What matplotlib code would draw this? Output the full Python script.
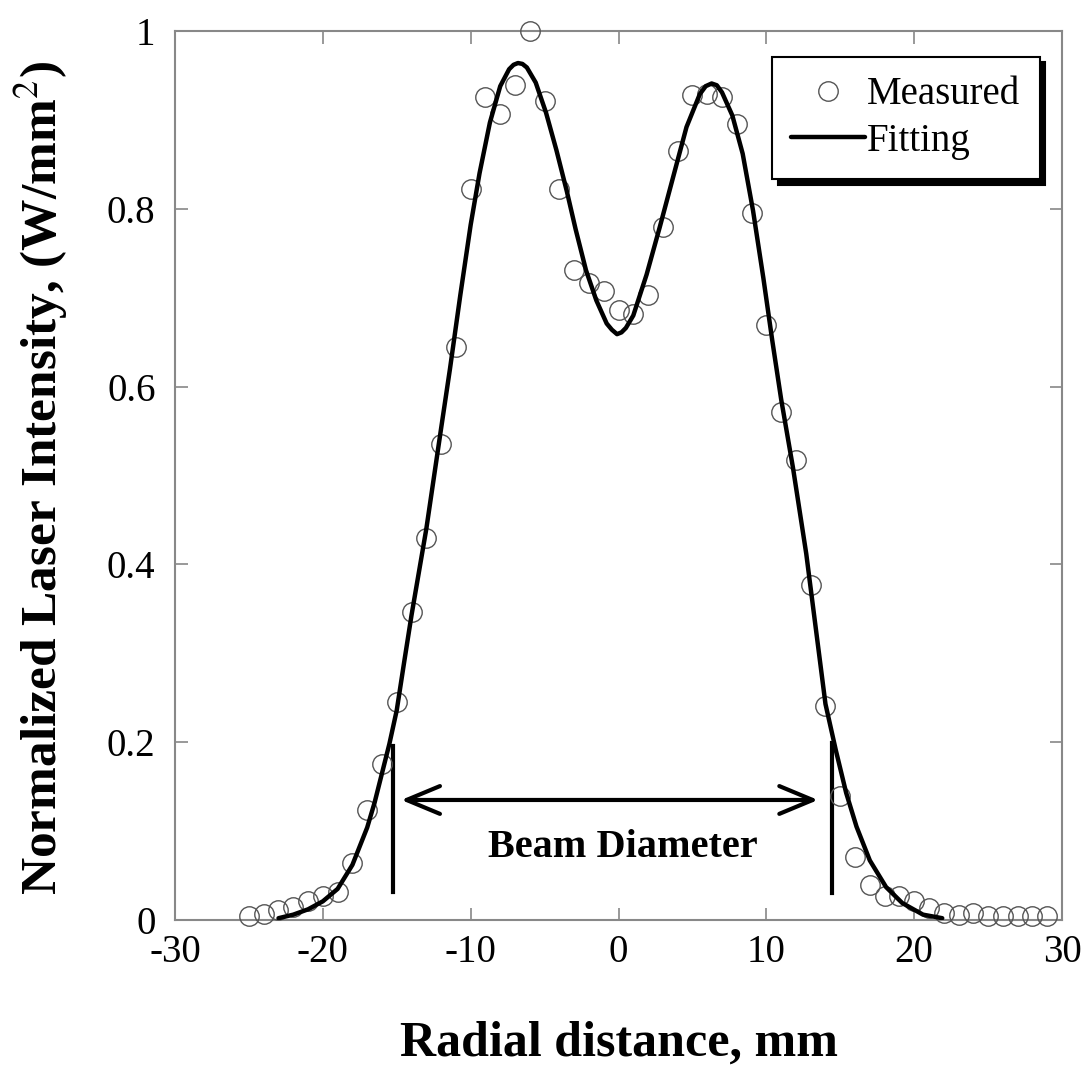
import matplotlib.pyplot as plt
import numpy as np

# measured points (1 mm steps)
radial = list(range(-25, 30))
measured = [0.005, 0.007, 0.011, 0.015, 0.021, 0.027, 0.031, 0.064, 0.124, 0.175,
            0.245, 0.346, 0.430, 0.536, 0.645, 0.822, 0.926, 0.907, 0.939, 1.000,
            0.921, 0.822, 0.731, 0.716, 0.708, 0.686, 0.682, 0.703, 0.780, 0.865,
            0.928, 0.929, 0.926, 0.895, 0.795, 0.669, 0.571, 0.517, 0.377, 0.241,
            0.140, 0.071, 0.039, 0.027, 0.027, 0.021, 0.014, 0.008, 0.006, 0.008,
            0.004, 0.004, 0.004, 0.004, 0.004]

# fitting curve
fit_x = [-23.0, -22.0, -21.0, -20.0, -19.0, -18.0, -17.0, -16.5, -16.0, -15.5,
         -15.0, -14.5, -14.0, -13.0, -12.0, -11.4, -10.7, -10.0, -9.4, -8.7,
         -8.0, -7.4, -7.1, -6.8, -6.5, -6.2, -5.6, -4.9, -4.2, -3.5,
         -2.9, -2.2, -1.5, -0.8, -0.45, -0.1, 0.2, 0.5, 1.0, 1.9,
         2.8, 3.7, 4.6, 5.5, 5.9, 6.3, 6.65, 7.0, 7.7, 8.4,
         9.1, 9.8, 10.4, 11.0, 11.8, 12.7, 13.6, 14.0, 14.7, 15.4,
         16.1, 17.0, 18.1, 19.2, 20.6, 21.9]
fit_y = [0.002, 0.006, 0.012, 0.021, 0.035, 0.062, 0.104, 0.132, 0.165, 0.198,
         0.236, 0.290, 0.343, 0.440, 0.553, 0.620, 0.703, 0.782, 0.840, 0.897,
         0.938, 0.957, 0.962, 0.964, 0.963, 0.959, 0.942, 0.908, 0.866, 0.820,
         0.777, 0.731, 0.697, 0.671, 0.664, 0.659, 0.661, 0.666, 0.680, 0.726,
         0.780, 0.836, 0.892, 0.929, 0.938, 0.941, 0.939, 0.931, 0.905, 0.862,
         0.798, 0.722, 0.652, 0.586, 0.509, 0.412, 0.295, 0.243, 0.191, 0.143,
         0.105, 0.067, 0.037, 0.019, 0.006, 0.002]

beam_left = -15.25
beam_right = 14.45

serif = ['Liberation Serif', 'DejaVu Serif']
plt.rcParams['font.family'] = serif
plt.rcParams['mathtext.fontset'] = 'stix'

fig = plt.figure(figsize=(10.85, 10.7), dpi=100)
ax = fig.add_axes([0.1613, 0.1402, 0.8175, 0.8308])

ax.plot(radial, measured, 'o', ms=14, mfc='none', mec='#555555', mew=1.0,
        clip_on=False, label='Measured', zorder=3)
ax.plot(fit_x, fit_y, '-', color='black', lw=3.2, label='Fitting', zorder=4,
        solid_joinstyle='round', solid_capstyle='round')

# beam diameter marks
ax.plot([beam_left, beam_left], [0.032, 0.196], color='black', lw=3)
ax.plot([beam_right, beam_right], [0.030, 0.199], color='black', lw=3)
ax.annotate('', xy=(-14.7, 0.135), xytext=(13.5, 0.135),
            arrowprops=dict(arrowstyle='<->, head_length=1.2, head_width=0.5',
                            color='black', lw=3, shrinkA=0, shrinkB=0,
                            mutation_scale=20))
ax.text(0.3, 0.082, 'Beam Diameter', ha='center', va='center',
        fontsize=29, fontweight='bold')

ax.set_xlim(-30, 30)
ax.set_ylim(0, 1)
ax.set_xticks([-30, -20, -10, 0, 10, 20, 30])
ax.set_xticklabels(['-30', '-20', '-10', '0', '10', '20', '30'])
ax.set_yticks([0, 0.2, 0.4, 0.6, 0.8, 1.0])
ax.set_yticklabels(['0', '0.2', '0.4', '0.6', '0.8', '1'])
ax.tick_params(direction='in', length=9, width=1.2, color='#888888',
               top=True, right=True, labelsize=28)
ax.tick_params(axis='x', pad=10)
ax.tick_params(axis='y', pad=14)
for s in ax.spines.values():
    s.set_color('#888888')
    s.set_linewidth(1.5)

ax.set_xlabel('Radial distance, mm', fontsize=36, fontweight='bold', labelpad=36)
ax.set_ylabel('Normalized Laser Intensity, (W/mm$^\\mathrm{2}$)', fontsize=37,
              fontweight='bold')
ax.yaxis.set_label_coords(-0.118, 0.497)

leg = ax.legend(loc='upper right', bbox_to_anchor=(0.975, 0.971), borderaxespad=0,
                fontsize=28, fancybox=False, framealpha=1, edgecolor='black',
                handlelength=1.9, handletextpad=0.05, labelspacing=0.25,
                borderpad=0.5,
                shadow={'ox': 4, 'oy': -4, 'color': 'black', 'alpha': 1})
leg.get_frame().set_linewidth(1.5)

fig.savefig('out.png', dpi=100)
